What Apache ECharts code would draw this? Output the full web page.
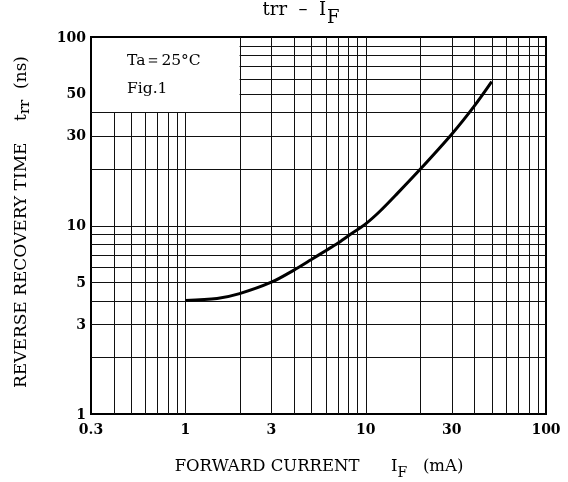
<!DOCTYPE html>
<html>
<head>
<meta charset="utf-8">
<script src="https://cdn.jsdelivr.net/npm/echarts@6/dist/echarts.min.js"></script>
<style>
  html, body { margin: 0; padding: 0; background: #fff; }
  #chart { width: 568px; height: 482px; }
</style>
</head>
<body>
<div id="chart"></div>
<script>
// trr - IF curve, log-log
const xMin = 0.3, xMax = 100;
const yMin = 1, yMax = 100;
const gridX = [0.4, 0.5, 0.6, 0.7, 0.8, 0.9, 1, 2, 3, 4, 5, 6, 7, 8, 9, 10, 20, 30, 40, 50, 60, 70, 80, 90];
const gridY = [2, 3, 4, 5, 6, 7, 8, 9, 10, 20, 30, 40, 50, 60, 70, 80, 90];
const xTicks = [0.3, 1, 3, 10, 30, 100];
const yTicks = [1, 3, 5, 10, 30, 50, 100];
const ifValues = [1, 1.5, 2, 3, 4, 5, 6, 7, 8, 10, 12, 15, 20, 30, 40, 50];
const trrValues = [4.0, 4.1, 4.35, 5.0, 5.8, 6.6, 7.35, 8.05, 8.8, 10.2, 11.9, 14.8, 19.8, 30.5, 43, 58];

// the "Ta=25°C / Fig.1" box blanks the grid up to these values
const boxX = 2, boxY = 40;

const SERIF = '"DejaVu Serif", "Liberation Serif", serif';
const px = (v) => Math.round(v) + 0.5;

const chart = echarts.init(document.getElementById('chart'));

const option = {
  animation: false,
  backgroundColor: '#fff',
  grid: {
    left: 91, right: 22, top: 37, bottom: 68,
    show: true, borderColor: '#000', borderWidth: 2, backgroundColor: '#fff'
  },
  xAxis: {
    type: 'log', logBase: 10, min: xMin, max: xMax,
    axisLine: { show: false }, axisTick: { show: false },
    axisLabel: { show: false }, splitLine: { show: false }
  },
  yAxis: {
    type: 'log', logBase: 10, min: yMin, max: yMax,
    axisLine: { show: false }, axisTick: { show: false },
    axisLabel: { show: false }, splitLine: { show: false }
  },
  graphic: [
    // title: trr - I with a lowered F
    {
      type: 'text', x: 326, y: 10.5,
      style: { text: 'trr  –  I', font: '18px ' + SERIF, fill: '#000', align: 'right', verticalAlign: 'middle' }
    },
    {
      type: 'text', x: 327, y: 18.5,
      style: { text: 'F', font: '18px ' + SERIF, fill: '#000', align: 'left', verticalAlign: 'middle' }
    },
    {
      type: 'text', x: 319, y: 467,
      style: {
        text: '{n|FORWARD CURRENT      I}{s|F}{n|   (mA)}',
        align: 'center', verticalAlign: 'middle', fill: '#000',
        rich: {
          n: { font: '16.5px ' + SERIF, lineHeight: 26 },
          s: { font: '14px ' + SERIF, lineHeight: 14, verticalAlign: 'bottom' }
        }
      }
    },
    {
      type: 'text', x: 22, y: 222, rotation: Math.PI / 2,
      style: {
        text: '{n|REVERSE RECOVERY TIME    t}{s|rr}{n|  (ns)}',
        align: 'center', verticalAlign: 'middle', fill: '#000',
        rich: {
          n: { font: '17px ' + SERIF, lineHeight: 22 },
          s: { font: '15px ' + SERIF, lineHeight: 16, verticalAlign: 'bottom' }
        }
      }
    },
    {
      type: 'text', x: 127, y: 61,
      style: { text: 'Ta＝25°C', font: '15.5px ' + SERIF, fill: '#000', align: 'left', verticalAlign: 'middle' }
    },
    {
      type: 'text', x: 127, y: 89,
      style: { text: 'Fig.1', font: '15.5px ' + SERIF, fill: '#000', align: 'left', verticalAlign: 'middle' }
    }
  ],
  series: [
    {
      // vertical grid lines
      type: 'custom', silent: true, z: 1,
      data: gridX.map((v) => [v, yMin]),
      renderItem: (params, api) => {
        const v = api.value(0);
        const p1 = api.coord([v, yMin]);
        const p2 = api.coord([v, v < boxX ? boxY : yMax]);
        return {
          type: 'line',
          shape: { x1: px(p1[0]), y1: p1[1], x2: px(p2[0]), y2: p2[1] },
          style: { stroke: '#111', lineWidth: 1 }
        };
      }
    },
    {
      // horizontal grid lines
      type: 'custom', silent: true, z: 1,
      data: gridY.map((v) => [xMin, v]),
      renderItem: (params, api) => {
        const v = api.value(1);
        const p1 = api.coord([v > boxY ? boxX : xMin, v]);
        const p2 = api.coord([xMax, v]);
        return {
          type: 'line',
          shape: { x1: p1[0], y1: px(p1[1]), x2: p2[0], y2: px(p2[1]) },
          style: { stroke: '#111', lineWidth: 1 }
        };
      }
    },
    {
      // x tick labels
      type: 'custom', silent: true, clip: false,
      data: xTicks.map((v) => [v, yMin]),
      renderItem: (params, api) => {
        const p = api.coord([api.value(0), yMin]);
        return {
          type: 'text', x: p[0], y: p[1] + 16,
          style: {
            text: String(xTicks[params.dataIndex]), font: 'bold 14px ' + SERIF, fill: '#000',
            align: 'center', verticalAlign: 'middle', textAlign: 'center', textVerticalAlign: 'middle'
          }
        };
      }
    },
    {
      // y tick labels
      type: 'custom', silent: true, clip: false,
      data: yTicks.map((v) => [xMin, v]),
      renderItem: (params, api) => {
        const p = api.coord([xMin, api.value(1)]);
        return {
          type: 'text', x: p[0] - 5, y: p[1] + 1,
          style: {
            text: String(yTicks[params.dataIndex]), font: 'bold 14px ' + SERIF, fill: '#000',
            align: 'right', verticalAlign: 'middle', textAlign: 'right', textVerticalAlign: 'middle'
          }
        };
      }
    },
    {
      type: 'line', z: 5,
      data: ifValues.map((x, i) => [x, trrValues[i]]),
      smooth: 0.3, symbol: 'none',
      lineStyle: { color: '#000', width: 3 }
    }
  ]
};

chart.setOption(option);
</script>
</body>
</html>
